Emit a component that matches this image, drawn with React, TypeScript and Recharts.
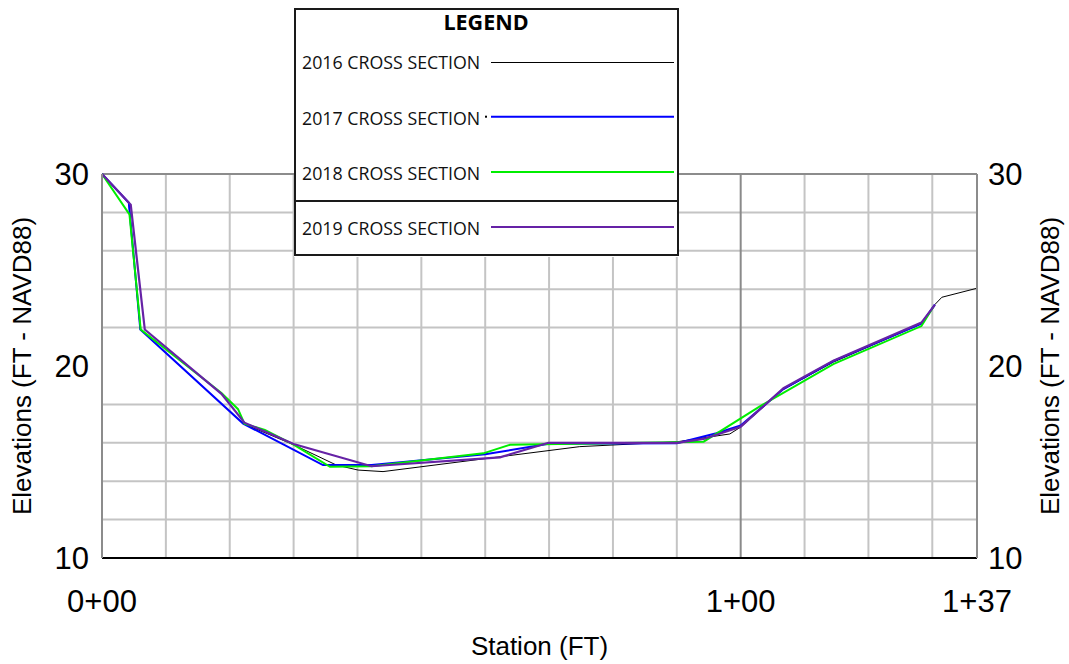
import React from 'react';
import { LineChart, Line, XAxis, YAxis, CartesianGrid, ReferenceLine, Legend, Label } from 'recharts';

// station (ft) / elevation (ft NAVD88) pairs
const STATIONS_2016 = [0, 4.2, 6.0, 22.1, 30, 36.7, 40.1, 44, 74.8, 90, 98.3, 100.1, 106.5, 114.5, 128.3, 130.4, 131.5, 137];
const ELEV_2016 = [30, 28.5, 21.9, 17.0, 15.9, 14.84, 14.58, 14.5, 15.8, 16.05, 16.46, 16.84, 18.75, 20.2, 22.2, 23.2, 23.58, 24.05];

const STATIONS_2017 = [0, 4.2, 6.0, 22.1, 34.6, 42.2, 60, 69.9, 90, 96.2, 100, 106.7, 114.5, 128.3, 130.4];
const ELEV_2017 = [30, 28.5, 21.9, 17.0, 14.84, 14.84, 15.4, 15.95, 15.98, 16.5, 16.9, 18.8, 20.25, 22.2, 23.2];

const STATIONS_2018 = [0, 4.3, 6.06, 18.7, 21.3, 22.3, 25.5, 30, 35.7, 42.2, 59.7, 63.9, 94.2, 103, 114.5, 128.3, 130.2];
const ELEV_2018 = [30, 27.9, 21.9, 18.6, 17.75, 17.0, 16.67, 15.9, 14.75, 14.78, 15.45, 15.9, 16.06, 17.9, 20.1, 22.08, 23.1];

const STATIONS_2019 = [0, 4.5, 6.7, 18.7, 22.3, 30, 42.2, 62.3, 69.9, 90, 94.2, 100, 106.7, 114.5, 128.3, 130.4];
const ELEV_2019 = [30, 28.4, 21.9, 18.55, 17.05, 15.94, 14.78, 15.24, 16.0, 16.0, 16.2, 16.84, 18.84, 20.28, 22.26, 23.18];

const X_TICKS = [0, 100, 137];
const Y_TICKS = [10, 20, 30];
const GRID_STATIONS = [10, 20, 30, 40, 50, 60, 70, 80, 90, 110, 120, 130];
const GRID_ELEVS = [12, 14, 16, 18, 22, 24, 26, 28];

const toPoints = (st: number[], el: number[]) => st.map((s, i) => ({ station: s, elev: el[i] }));

// the 2016 line sits on the right-hand elevation axis (same scale) so that axis gets its ticks
const SERIES = [
  { name: '2016 CROSS SECTION', data: toPoints(STATIONS_2016, ELEV_2016), color: '#000000', width: 1, axis: 'right' },
  { name: '2017 CROSS SECTION', data: toPoints(STATIONS_2017, ELEV_2017), color: '#0000ff', width: 2, axis: 'left' },
  { name: '2018 CROSS SECTION', data: toPoints(STATIONS_2018, ELEV_2018), color: '#00ee00', width: 2, axis: 'left' },
  { name: '2019 CROSS SECTION', data: toPoints(STATIONS_2019, ELEV_2019), color: '#6622a6', width: 2.2, axis: 'left' },
];

const FONT = '"Liberation Sans", Arial, sans-serif';
const LEGEND_FONT = '"Open Sans", "Noto Sans", sans-serif';

const fmtStation = (v: number) => `${Math.floor(v / 100)}+${String(Math.round(v % 100)).padStart(2, '0')}`;

const LegendBox = () => (
  <svg width={385} height={249} style={{ display: 'block', background: '#fff' }}>
    <rect x={1} y={1} width={383} height={246} fill="#fff" stroke="#1a1a1a" strokeWidth={2} />
    <line x1={0} x2={385} y1={193} y2={193} stroke="#1a1a1a" strokeWidth={2} />
    <text x={192} y={22} textAnchor="middle" fontFamily={LEGEND_FONT} fontWeight="bold" fontSize={21.5} fill="#000">
      LEGEND
    </text>
    {SERIES.map((s, i) => {
      const base = [61, 117, 172, 227][i];
      const ly = [54.5, 108.7, 164, 219][i];
      return (
        <g key={s.name}>
          <text x={8} y={base} fontFamily={LEGEND_FONT} fontSize={17.8} fill="#111">
            {s.name}
          </text>
          <line x1={197} x2={380} y1={ly} y2={ly} stroke={s.color} strokeWidth={s.width} />
        </g>
      );
    })}
    <rect x={191} y={107.7} width={2} height={2} fill="#000" />
  </svg>
);

const titleLabel = (dxFromAxis: number) => ({ viewBox }: any) => {
  const x = viewBox.x + dxFromAxis;
  const y = viewBox.y + viewBox.height / 2;
  return (
    <text x={x} y={y} transform={`rotate(-90, ${x}, ${y})`} textAnchor="middle" fontFamily={FONT} fontSize={26} fill="#000">
      Elevations (FT - NAVD88)
    </text>
  );
};

const App: React.FC = () => {
  return (
    <div style={{ position: 'absolute', left: 0, top: 0, width: 1069, height: 664, background: '#fff' }}>
      <LineChart width={1069} height={664} margin={{ top: 174, right: 2, bottom: 6, left: 2 }}>
        <CartesianGrid
          yAxisId="left"
          stroke="#c4c4c4"
          strokeWidth={2}
          horizontalValues={GRID_ELEVS}
          verticalValues={GRID_STATIONS}
        />
        <XAxis
          type="number"
          dataKey="station"
          domain={[0, 137]}
          ticks={X_TICKS}
          tickFormatter={fmtStation}
          height={100}
          tickLine={false}
          tickSize={0}
          tickMargin={32}
          axisLine={{ stroke: '#000', strokeWidth: 2 }}
          tick={{ fill: '#000', fontSize: 31, fontFamily: FONT }}
          allowDataOverflow
        >
          <Label
            content={({ viewBox }: any) => (
              <text x={viewBox.x + viewBox.width / 2} y={viewBox.y + 97} textAnchor="middle" fontFamily={FONT} fontSize={26} fill="#000">
                Station (FT)
              </text>
            )}
          />
        </XAxis>
        <YAxis
          yAxisId="left"
          dataKey="elev"
          domain={[10, 30]}
          ticks={Y_TICKS}
          width={100}
          tickLine={false}
          tickSize={0}
          tickMargin={13}
          axisLine={{ stroke: '#8c8c8c', strokeWidth: 2 }}
          tick={{ fill: '#000', fontSize: 31, fontFamily: FONT }}
        >
          <Label content={titleLabel(29)} />
        </YAxis>
        <YAxis
          yAxisId="right"
          orientation="right"
          dataKey="elev"
          domain={[10, 30]}
          ticks={Y_TICKS}
          width={90}
          tickLine={false}
          tickSize={0}
          tickMargin={11}
          axisLine={{ stroke: '#8c8c8c', strokeWidth: 2 }}
          tick={{ fill: '#000', fontSize: 31, fontFamily: FONT }}
        >
          <Label content={titleLabel(82)} />
        </YAxis>
        <ReferenceLine yAxisId="left" y={30} stroke="#8c8c8c" strokeWidth={2} />
        <ReferenceLine yAxisId="left" x={100} stroke="#8a8a8a" strokeWidth={2} />
        {SERIES.map((s) => (
          <Line
            key={s.name}
            yAxisId={s.axis}
            data={s.data}
            dataKey="elev"
            name={s.name}
            type="linear"
            stroke={s.color}
            strokeWidth={s.width}
            dot={false}
            activeDot={false}
            isAnimationActive={false}
          />
        ))}
        <Legend
          layout="vertical"
          align="center"
          verticalAlign="middle"
          wrapperStyle={{ left: 294, top: 8, width: 385, height: 249 }}
          content={() => <LegendBox />}
        />
      </LineChart>
    </div>
  );
};

export default App;
